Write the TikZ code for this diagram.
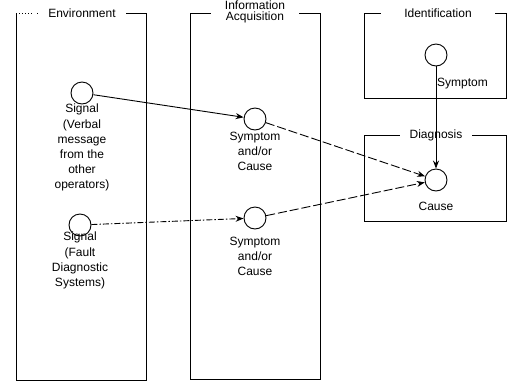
\documentclass[tikz,border=0pt]{standalone}
\usepackage{fontspec}
\setmainfont{Liberation Sans}
\usetikzlibrary{arrows.meta}
\begin{document}
\begin{tikzpicture}[x=1pt,y=-1pt,
  frame/.style={line width=1pt},
  title/.style={fill=white,inner sep=1pt,font=\fontsize{12}{14}\selectfont,align=center},
  state/.style={circle,draw,line width=0.9pt,minimum size=22pt,inner sep=0pt},
  lbl/.style={font=\fontsize{12}{15.2}\selectfont,align=center,anchor=north,inner sep=0pt},
  flow/.style={line width=0.9pt,-{Stealth[length=8pt,width=6pt]}},
  dashline/.style={dash pattern=on 9pt off 3pt},
  dashdot/.style={dash pattern=on 6pt off 2pt on 1.5pt off 2pt}]
\useasboundingbox (0,0) rectangle (512,381);

% stage frames
\draw[frame] (16,13) rectangle (146,380);
\draw[frame] (190,13) rectangle (320,379);
\draw[frame] (364,13) rectangle (506,98);
\draw[frame] (364,135) rectangle (506,221);
\node[fill=white,minimum width=20pt,minimum height=3pt,inner sep=0pt] at (27,13) {};
\draw[dotted,line width=1pt] (16,13) -- (34,13);

% stage titles
\node[title,minimum width=88pt] (tenv) at (82,13) {Environment};
\node[title,minimum width=88pt] (tinf) at (255,12) {Information\\[-3pt]Acquisition};
\node[title,minimum width=114pt] (tid) at (438,13) {Identification};
\node[title,minimum width=72pt] (tdia) at (436,135) {Diagnosis};

% states
\node[state] (s1) at (82,93) {};
\node[lbl] (s1t) at (82,104) {Signal\\(Verbal\\message\\from the\\other\\operators)};
\node[state] (s2) at (80,225) {};
\node[lbl] (s2t) at (80,232) {Signal\\(Fault\\Diagnostic\\Systems)};
\node[state] (i1) at (255,119) {};
\node[lbl] (i1t) at (255,132) {Symptom\\and/or\\Cause};
\node[state] (i2) at (255,218) {};
\node[lbl] (i2t) at (255,237) {Symptom\\and/or\\Cause};
\node[state] (sy) at (436,55) {};
\node[lbl,anchor=west] (syt) at (437,84) {Symptom};
\node[state] (ca) at (436,180) {};
\node[lbl,anchor=center] (cat) at (436,206) {Cause};

% connections
\draw[flow] (s1) -- (i1);
\draw[flow,dashline] (i1) -- (ca);
\draw[flow,dashdot] (s2) -- (i2);
\draw[flow,dashline] (i2) -- (ca);
\draw[flow] (sy) -- (ca);
\end{tikzpicture}
\end{document}
